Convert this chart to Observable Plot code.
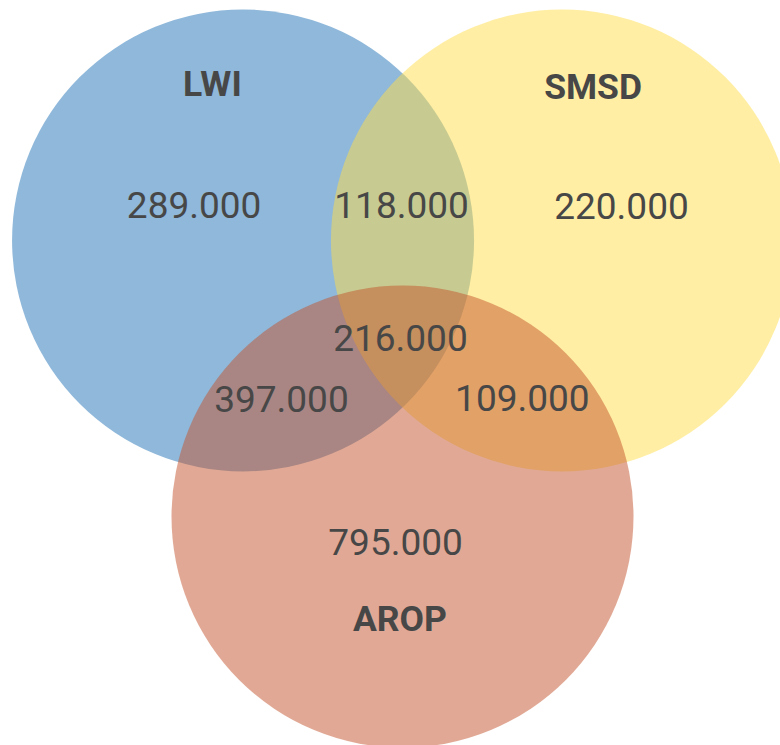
<!DOCTYPE html>
<html><head><meta charset="utf-8">
<script src="https://cdn.jsdelivr.net/npm/d3@7"></script>
<script src="https://cdn.jsdelivr.net/npm/@observablehq/plot@0.6"></script>
<style>body{margin:0;background:#fff;} svg{display:block;}</style>
</head><body><div id="chart"></div>
<script>
// ---- data ----
const sets = ["LWI", "SMSD", "AROP"];
const regionMembers = [["LWI"], ["SMSD"], ["AROP"], ["LWI","SMSD"], ["LWI","AROP"], ["SMSD","AROP"], ["LWI","SMSD","AROP"]];
const regionCounts = [289000, 220000, 795000, 118000, 397000, 109000, 216000];

// ---- layout (unit = circle radius, origin = centre of the three circles, y downwards) ----
const W = 780, H = 745;
const circleRadius = 1, centreSpread = 0.797;
const setAngles = {LWI: 210, SMSD: 330, AROP: 90};
const setLabelAnchor = {LWI: [-0.823, -1.074], SMSD: [0.825, -1.062], AROP: [-0.011, 1.242]};
const regionLabelAnchor = [[-0.902, -0.545], [0.948, -0.541], [-0.030, 0.911], [-0.004, -0.548], [-0.524, 0.294], [0.519, 0.290], [-0.009, 0.030]];
const setColors = ["#1f72b6", "#ffdd47", "#c3532b"];
const xDomain = [-402 / 231, 378 / 231];
const yDomain = [-332 / 231, 413 / 231];
const pxPerUnit = W / (xDomain[1] - xDomain[0]);

const circles = sets.map(s => ({
  set: s,
  x: centreSpread * Math.cos(setAngles[s] * Math.PI / 180),
  y: centreSpread * Math.sin(setAngles[s] * Math.PI / 180)
}));
const fmt = d3.formatLocale({decimal: ",", thousands: ".", grouping: [3], currency: ["", ""]}).format(",");
const regions = regionMembers.map((m, i) => ({
  key: m.join("∩"), value: regionCounts[i], x: regionLabelAnchor[i][0], y: regionLabelAnchor[i][1]
}));
const setLabels = sets.map(s => ({set: s, x: setLabelAnchor[s][0], y: setLabelAnchor[s][1]}));

const chart = Plot.plot({
  width: W, height: H, margin: 0,
  style: {background: "#fff", fontFamily: "Roboto, sans-serif", overflow: "visible"},
  x: {domain: xDomain, range: [0, W], axis: null},
  y: {domain: yDomain, range: [0, H], axis: null},
  color: {domain: sets, range: setColors},
  marks: [
    Plot.dot(circles, {x: "x", y: "y", r: circleRadius * pxPerUnit, fill: "set", fillOpacity: 0.5}),
    Plot.text(regions, {x: "x", y: "y", text: d => fmt(d.value), fontSize: 37, fill: "#474747", fontFamily: "Roboto"}),
    Plot.text(setLabels, {x: "x", y: "y", text: "set", fontSize: 35.5, fontWeight: "bold", fill: "#474747", fontFamily: "Roboto"})
  ]
});
document.getElementById("chart").append(chart);
</script>
</body></html>
